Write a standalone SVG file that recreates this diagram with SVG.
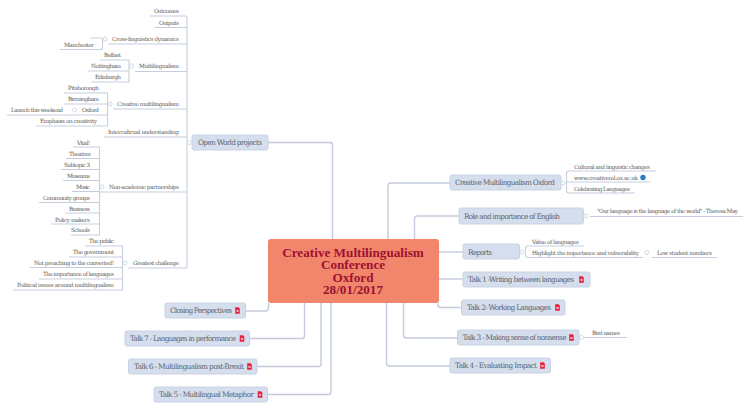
<svg xmlns="http://www.w3.org/2000/svg" xmlns:xlink="http://www.w3.org/1999/xlink" width="750" height="409" viewBox="0 0 750 409">
<style>
text{font-family:"DejaVu Serif","Liberation Serif",serif}
.c path{fill:none;stroke:#c6cedd;stroke-width:1.1}
.m path{fill:none;stroke:#c3cbdb;stroke-width:1.4}
.t{font-size:5.700px;fill:#5e5e5e}
.n{fill:#d5deec;stroke:#c8d2e4;stroke-width:1}
.nt{font-size:7.400px;fill:#5f6470}
.ct{font-family:"Liberation Serif",serif;font-size:13.200px;font-weight:bold;fill:#9c1231;text-anchor:middle}
.i{fill:#fff;stroke:#d3d9e4;stroke-width:1}
</style>
<defs>
<g id="pdf"><path d="M-2.300 -3.200H1L2.300 -1.900V3.200H-2.300Z" fill="#e9203f"/><rect x="-1.100" y="-.2" width="2.200" height="1.300" fill="#fff"/></g>
</defs>
<g id="connectors">
<g class="m">
<path d="M268 142.500H330Q332.500 142.500 332.500 145V239"/>
<path d="M388 239V186Q388 183 391 183H450"/>
<path d="M414.500 239V219Q414.500 216 417.500 216H459"/>
<path d="M439 252H463"/>
<path d="M439 279H463"/>
<path d="M438 303V305Q438 307.500 441 307.500H461"/>
<path d="M403.500 303V335Q403.500 338 406.500 338H457"/>
<path d="M386.500 303V363Q386.500 366 389.500 366H450"/>
<path d="M245.500 311H265Q268.500 311 268.500 307V303"/>
<path d="M249.500 338.500H302Q304.500 338.500 304.500 336V303"/>
<path d="M257 366.500H318.500Q321 366.500 321 364V303"/>
<path d="M267.500 394.500H328.500Q331 394.500 331 392V303"/>
</g>
<g class="c">
<path d="M192 142.500H187"/>
<path d="M150 16H185Q187 16 187 18V266Q187 268 185 268H128"/>
<path d="M155 27.500H187"/>
<path d="M108 44H187"/>
<path d="M135 71.500H187"/>
<path d="M113 109H187"/>
<path d="M104 137H187"/>
<path d="M100 192H187"/>
<path d="M90 38H100.500Q102.500 38 102.500 40V47.500Q102.500 49.500 100.500 49.500H60"/>
<path d="M100 60H129V82H91"/>
<path d="M88 71H129"/>
<path d="M64 93H107.500V126H36"/>
<path d="M64 104H107.500"/>
<path d="M7 115H107.500"/>
<path d="M73 147H99.500V235H71"/>
<path d="M66 158.500H99.500"/>
<path d="M61 169.500H99.500"/>
<path d="M63 180.500H99.500"/>
<path d="M72 191.500H99.500"/>
<path d="M39 202.500H99.500"/>
<path d="M65 213H99.500"/>
<path d="M51 224H99.500"/>
<path d="M85 246H122.500V290H13"/>
<path d="M69 257H122.500"/>
<path d="M30 267.500H122.500"/>
<path d="M39 279H122.500"/>
<path d="M561 183H564"/>
<path d="M656 171H569Q566.500 171 566.500 173.500V190.500Q566.500 193 569 193H635"/>
<path d="M566.500 182H650"/>
<path d="M590 216.500H743"/>
<path d="M519.500 252H523"/>
<path d="M584 246H528Q525.500 246 525.500 248.500V255Q525.500 257.500 528 257.500H643"/>
<path d="M652 257.500H717"/>
<path d="M579 337.500H627"/>
</g>
</g>
<g id="center"><rect x="268" y="239" width="171" height="64" rx="3" fill="#f2866c"/><text class="ct"><tspan x="353" y="256.500">Creative Multilingualism</tspan><tspan x="353" y="269">Conference</tspan><tspan x="353" y="281.500">Oxford</tspan><tspan x="353" y="294">28/01/2017</tspan></text></g>
<g id="open-world"><rect class="n" x="192" y="135" width="76" height="15" rx="2"/><text class="nt" x="198" y="145.300" textLength="64">Open World projects</text><circle class="i" cx="189.500" cy="142.500" r="2"/></g>
<g id="outcomes"><text class="t" x="154" y="13.300" textLength="25">Outcomes</text></g>
<g id="outputs"><text class="t" x="159" y="25.300" textLength="20">Outputs</text></g>
<g id="cross"><text class="t" x="112" y="41.300" textLength="67">Cross-linguistics dynamics</text><circle class="i" cx="105" cy="39" r="2"/></g>
<g id="manchester"><text class="t" x="64" y="47.300" textLength="30">Manchester</text></g>
<g id="multilingualism"><text class="t" x="139" y="68.300" textLength="40">Multilingualism</text><circle class="i" cx="131.500" cy="66" r="2"/></g>
<g id="belfast"><text class="t" x="104" y="57.300" textLength="17">Belfast</text></g>
<g id="nottingham"><text class="t" x="91" y="68.300" textLength="30">Nottingham</text></g>
<g id="edinburgh"><text class="t" x="95" y="79.300" textLength="26">Edinburgh</text></g>
<g id="creative"><text class="t" x="117" y="106.300" textLength="62">Creative multilingualism</text><circle class="i" cx="110" cy="104" r="2"/></g>
<g id="pitsborough"><text class="t" x="68" y="90.300" textLength="31">Pitsborough</text></g>
<g id="birmingham"><text class="t" x="68" y="101.300" textLength="31">Birmingham</text></g>
<g id="oxford"><text class="t" x="82" y="112.300" textLength="17">Oxford</text><circle class="i" cx="74.500" cy="110" r="2"/></g>
<g id="launch"><text class="t" x="11" y="112.300" textLength="52">Launch this weekend</text></g>
<g id="emphasis"><text class="t" x="40" y="123.300" textLength="57">Emphasis on creativity</text></g>
<g id="intercultural"><text class="t" x="108" y="134.300" textLength="71">Intercultrual understanding</text></g>
<g id="non-academic"><text class="t" x="109" y="189.300" textLength="70">Non-academic partnerships</text><circle class="i" cx="102" cy="187" r="2"/></g>
<g id="vital"><text class="t" x="77" y="145.300" textLength="13">Vital!</text></g>
<g id="theatres"><text class="t" x="69" y="156.300" textLength="22">Theatres</text></g>
<g id="subtopic"><text class="t" x="64" y="167.300" textLength="26">Subtopic 3</text></g>
<g id="museums"><text class="t" x="67" y="178.300" textLength="23">Museums</text></g>
<g id="music"><text class="t" x="76" y="189.300" textLength="14">Music</text></g>
<g id="community"><text class="t" x="43" y="200.300" textLength="47">Community groups</text></g>
<g id="business"><text class="t" x="69" y="211.300" textLength="21">Business</text></g>
<g id="policy"><text class="t" x="55" y="222.300" textLength="35">Policy makers</text></g>
<g id="schools"><text class="t" x="71" y="232.300" textLength="19">Schools</text></g>
<g id="greatest"><text class="t" x="133" y="265.300" textLength="46">Greatest challenge</text><circle class="i" cx="125" cy="263" r="2"/></g>
<g id="public"><text class="t" x="89" y="243.300" textLength="25">The public</text></g>
<g id="government"><text class="t" x="73" y="254.300" textLength="41">The government</text></g>
<g id="preaching"><text class="t" x="34" y="265.300" textLength="80">Not preaching to the converted!</text></g>
<g id="importance"><text class="t" x="43" y="276.300" textLength="71">The importance of languages</text></g>
<g id="political"><text class="t" x="17" y="287.300" textLength="97">Political issues around multilingualism</text></g>
<g id="closing"><rect class="n" x="165" y="303" width="80.500" height="15" rx="2"/><text class="nt" x="170" y="313.300" textLength="62">Closing Perspectives</text><use xlink:href="#pdf" href="#pdf" x="237.500" y="310.500"/></g>
<g id="talk7"><rect class="n" x="125" y="331" width="124.500" height="15" rx="2"/><text class="nt" x="130" y="341.300" textLength="106">Talk 7 - Languages in performance</text><use xlink:href="#pdf" href="#pdf" x="242" y="338.500"/></g>
<g id="talk6"><rect class="n" x="128.500" y="359" width="128.500" height="15" rx="2"/><text class="nt" x="134" y="369.300" textLength="110">Talk 6 - Multilingualism post-Brexit</text><use xlink:href="#pdf" href="#pdf" x="249.500" y="366.500"/></g>
<g id="talk5"><rect class="n" x="154" y="387" width="113.500" height="15" rx="2"/><text class="nt" x="159" y="397.300" textLength="95">Talk 5 - Multilingual Metaphor</text><use xlink:href="#pdf" href="#pdf" x="260" y="394.500"/></g>
<g id="cm-oxford"><rect class="n" x="450" y="175" width="111" height="15" rx="2"/><text class="nt" x="455" y="185.300" textLength="100">Creative Multilingualism Oxford</text><circle class="i" cx="563" cy="183" r="2"/></g>
<g id="cultural"><text class="t" x="574" y="169" textLength="76">Cultural and linguistic changes</text></g>
<g id="www"><text class="t" x="574" y="180" textLength="64">www.creativeml.ox.ac.uk</text><circle cx="643" cy="177.500" r="2.700" fill="#2f7bc8"/></g>
<g id="celebrating"><text class="t" x="574" y="190.500" textLength="56">Celebrating Languages</text></g>
<g id="role"><rect class="n" x="459" y="208" width="124.500" height="16" rx="2"/><text class="nt" x="464" y="219" textLength="96">Role and importance of English</text><circle class="i" cx="586" cy="216" r="2"/></g>
<g id="quote"><text class="t" x="597" y="213.300" textLength="141">"Our language is the language of the world" - Theresa May</text></g>
<g id="reports"><rect class="n" x="463" y="244" width="56.500" height="15" rx="2"/><text class="nt" x="468" y="254.500" textLength="24">Reports</text><circle class="i" cx="522" cy="252" r="2"/></g>
<g id="value"><text class="t" x="532" y="244" textLength="47">Value of languages</text></g>
<g id="highlight"><text class="t" x="532" y="255" textLength="107">Highlight the importance and vulnerability</text><circle class="i" cx="647" cy="252.500" r="2"/></g>
<g id="low"><text class="t" x="657" y="255" textLength="55">Low student numbers</text></g>
<g id="talk1"><rect class="n" x="463" y="272" width="127" height="15" rx="2"/><text class="nt" x="468" y="282.300" textLength="106">Talk 1 -Writing between languages</text><use xlink:href="#pdf" href="#pdf" x="581.500" y="279.500"/></g>
<g id="talk2"><rect class="n" x="461.500" y="300" width="103.500" height="15" rx="2"/><text class="nt" x="467" y="310.300" textLength="84">Talk 2- Working Languages</text><use xlink:href="#pdf" href="#pdf" x="557.500" y="307.500"/></g>
<g id="talk3"><rect class="n" x="457.500" y="330" width="121.500" height="15" rx="2"/><text class="nt" x="462.500" y="340.300" textLength="104">Talk 3 - Making sense of nonsense</text><use xlink:href="#pdf" href="#pdf" x="571.500" y="337.500"/><circle class="i" cx="581.500" cy="337.500" r="2"/></g>
<g id="birds"><text class="t" x="592" y="335" textLength="28">Bird names</text></g>
<g id="talk4"><rect class="n" x="450" y="358" width="100.500" height="15" rx="2"/><text class="nt" x="455" y="368.300" textLength="82">Talk 4 - Evaluating Impact</text><use xlink:href="#pdf" href="#pdf" x="542.500" y="365.500"/></g>
</svg>
